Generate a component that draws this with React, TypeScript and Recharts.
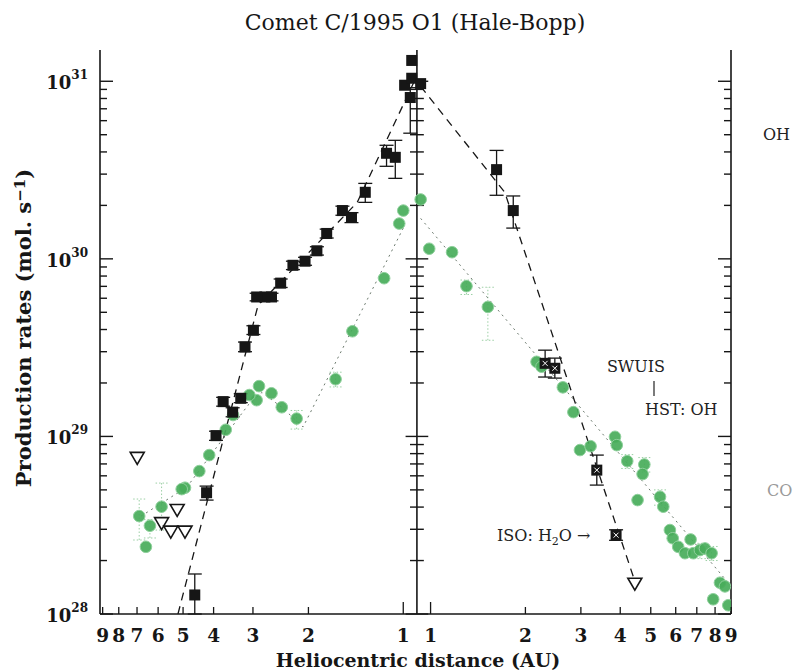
import React from 'react';
import { ComposedChart, Scatter, XAxis, YAxis, ErrorBar, ReferenceLine } from 'recharts';

const FONT = "'DejaVu Serif', serif";
// perihelion distance used to fold the two branches around the centre line
const PERIHELION = 0.905;

// axis ticks
const preTicks = [9, 8, 7, 6, 5, 4, 3, 2, 1];
const postTicks = [1, 2, 3, 4, 5, 6, 7, 8, 9];
const yDecades = [1e28, 1e29, 1e30, 1e31];
const yMinorSteps = [2, 3, 4, 5, 6, 7, 8, 9];
const Y_MIN = 1e28;
const Y_MAX = 1.5e31;

// OH production rate before perihelion (r in AU, q in mol/s, lo/hi = error bar ends)
const ohPre = [
  { r: 0.94, q: 1.31e31 },
  { r: 0.99, q: 9.5e30 },
  { r: 0.94, q: 1.04e31 },
  { r: 0.95, q: 8.1e30, lo: 5.1e30, hi: 9.2e30 },
  { r: 1.13, q: 3.93e30, lo: 3.32e30, hi: 4.36e30 },
  { r: 1.06, q: 3.73e30, lo: 2.84e30, hi: 4.65e30 },
  { r: 1.32, q: 2.37e30, lo: 2.08e30, hi: 2.66e30 },
  { r: 1.46, q: 1.71e30, lo: 1.6e30, hi: 1.82e30 },
  { r: 1.56, q: 1.87e30, lo: 1.76e30, hi: 1.98e30 },
  { r: 1.75, q: 1.39e30, lo: 1.31e30, hi: 1.47e30 },
  { r: 1.88, q: 1.11e30, lo: 1.05e30, hi: 1.17e30 },
  { r: 2.05, q: 9.7e29, lo: 9.2e29, hi: 1.02e30 },
  { r: 2.24, q: 9.2e29, lo: 8.7e29, hi: 9.7e29 },
  { r: 2.45, q: 7.3e29, lo: 6.9e29, hi: 7.7e29 },
  { r: 2.62, q: 6.1e29, lo: 5.8e29, hi: 6.4e29 },
  { r: 2.75, q: 6.1e29, lo: 5.8e29, hi: 6.4e29 },
  { r: 2.92, q: 6.1e29, lo: 5.8e29, hi: 6.4e29 },
  { r: 2.99, q: 3.96e29, lo: 3.75e29, hi: 4.2e29 },
  { r: 3.18, q: 3.19e29, lo: 3.0e29, hi: 3.4e29 },
  { r: 3.28, q: 1.64e29, lo: 1.55e29, hi: 1.74e29 },
  { r: 3.48, q: 1.37e29, lo: 1.29e29, hi: 1.45e29 },
  { r: 3.73, q: 1.57e29, lo: 1.48e29, hi: 1.66e29 },
  { r: 3.93, q: 1.01e29, lo: 9.5e28, hi: 1.07e29 },
  { r: 4.21, q: 4.82e28, lo: 4.38e28, hi: 5.25e28 },
  { r: 4.59, q: 1.28e28, lo: 1.0e28, hi: 1.68e28 },
];

// OH after perihelion
const ohPost = [
  { r: 0.93, q: 9.7e30 },
  { r: 1.62, q: 3.18e30, lo: 2.28e30, hi: 4.08e30 },
  { r: 1.83, q: 1.87e30, lo: 1.49e30, hi: 2.26e30 },
];

// SWUIS / ISO water points after perihelion
const ohPostIR = [
  { r: 2.31, q: 2.58e29, lo: 2.16e29, hi: 3.06e29 },
  { r: 2.48, q: 2.42e29, lo: 2.13e29, hi: 2.76e29 },
  { r: 3.37, q: 6.46e28, lo: 5.32e28, hi: 7.85e28 },
  { r: 3.88, q: 2.78e28, lo: 2.6e28, hi: 2.98e28 },
];

// upper limits (open triangles)
const ohPreLimits = [
  { r: 6.99, q: 7.62e28 },
  { r: 5.22, q: 3.88e28 },
  { r: 5.85, q: 3.27e28 },
  { r: 5.47, q: 2.93e28 },
  { r: 4.93, q: 2.93e28 },
];
const ohPostLimits = [{ r: 4.45, q: 1.49e28 }];

// CO production rate before perihelion
const coPre = [
  { r: 1.0, q: 1.87e30 },
  { r: 1.03, q: 1.58e30 },
  { r: 1.15, q: 7.78e29 },
  { r: 1.45, q: 3.91e29 },
  { r: 1.64, q: 2.1e29, lo: 1.9e29, hi: 2.3e29 },
  { r: 2.18, q: 1.26e29, lo: 1.1e29, hi: 1.4e29 },
  { r: 2.43, q: 1.46e29 },
  { r: 2.62, q: 1.75e29 },
  { r: 2.87, q: 1.92e29 },
  { r: 2.92, q: 1.6e29 },
  { r: 3.08, q: 1.71e29 },
  { r: 3.47, q: 1.32e29 },
  { r: 3.66, q: 1.09e29 },
  { r: 4.13, q: 7.85e28 },
  { r: 4.44, q: 6.38e28 },
  { r: 4.93, q: 5.14e28 },
  { r: 5.05, q: 5.05e28 },
  { r: 5.85, q: 4.02e28, lo: 2.97e28, hi: 5.46e28 },
  { r: 6.37, q: 3.14e28, lo: 2.68e28, hi: 3.4e28 },
  { r: 6.89, q: 3.56e28, lo: 2.61e28, hi: 4.44e28 },
  { r: 6.56, q: 2.39e28 },
];

// CO after perihelion
const coPost = [
  { r: 0.93, q: 2.16e30 },
  { r: 0.99, q: 1.14e30 },
  { r: 1.17, q: 1.09e30 },
  { r: 1.3, q: 7.02e29, lo: 6.3e29, hi: 7.6e29 },
  { r: 1.52, q: 5.36e29, lo: 3.48e29, hi: 6.92e29 },
  { r: 2.17, q: 2.63e29 },
  { r: 2.25, q: 2.47e29 },
  { r: 2.63, q: 1.89e29 },
  { r: 2.84, q: 1.37e29 },
  { r: 2.98, q: 8.38e28 },
  { r: 3.22, q: 8.81e28 },
  { r: 3.85, q: 9.95e28 },
  { r: 3.9, q: 8.93e28 },
  { r: 4.21, q: 7.26e28, lo: 6.6e28, hi: 7.9e28 },
  { r: 4.77, q: 6.95e28, lo: 6.3e28, hi: 7.6e28 },
  { r: 4.71, q: 6.14e28 },
  { r: 4.54, q: 4.38e28 },
  { r: 5.35, q: 4.57e28, lo: 4.1e28, hi: 5.0e28 },
  { r: 5.48, q: 4.02e28 },
  { r: 5.75, q: 2.97e28 },
  { r: 5.87, q: 2.67e28 },
  { r: 6.11, q: 2.39e28 },
  { r: 6.42, q: 2.2e28 },
  { r: 6.69, q: 2.63e28 },
  { r: 6.82, q: 2.2e28 },
  { r: 7.16, q: 2.29e28, lo: 2.05e28, hi: 2.5e28 },
  { r: 7.43, q: 2.34e28 },
  { r: 7.8, q: 2.2e28, lo: 2.0e28, hi: 2.4e28 },
  { r: 8.29, q: 1.5e28 },
  { r: 8.6, q: 1.43e28 },
  { r: 7.89, q: 1.21e28 },
  { r: 8.81, q: 1.12e28 },
];

// trend lines drawn through the data
const ohPreFit = [
  { r: 5.19, q: 1.0e28 },
  { r: 2.89, q: 5.48e29 },
  { r: 1.4, q: 2.08e30 },
  { r: 0.92, q: 1.01e31 },
];
const ohPostFit = [
  { r: 0.93, q: 9.35e30 },
  { r: 1.72, q: 2.37e30 },
  { r: 4.49, q: 1.46e28 },
];
const coPreFit = [
  { r: 1.0, q: 1.49e30 },
  { r: 2.08, q: 1.13e29 },
  { r: 2.43, q: 1.46e29 },
  { r: 2.81, q: 1.77e29 },
  { r: 3.11, q: 1.5e29 },
  { r: 4.86, q: 5.19e28 },
  { r: 6.86, q: 3.52e28 },
];
const coPostFit = [
  { r: 0.93, q: 1.69e30 },
  { r: 8.92, q: 1.46e28 },
];

type Row = { r: number; q: number; lo?: number; hi?: number };

// pre-perihelion runs to the left of the centre line, post to the right
const fold = (side: number, rows: Row[]) =>
  rows.map((d) => ({
    u: side * Math.log10(d.r / PERIHELION),
    q: d.q,
    err: d.lo != null && d.hi != null ? [d.q - d.lo, d.hi - d.q] : undefined,
  }));
const withErr = (side: number, rows: Row[]) => fold(side, rows.filter((d) => d.lo != null));

const xTicks = [
  ...preTicks.map((r) => ({ u: -Math.log10(r / PERIHELION), label: r })),
  ...postTicks.map((r) => ({ u: Math.log10(r / PERIHELION), label: r })),
];
const xTickValues = xTicks.map((t) => t.u);
const xLabel = (v: number) => xTicks.find((t) => Math.abs(t.u - v) < 1e-9)?.label;

const yTicks = yDecades.flatMap((d) =>
  d * 2 > Y_MAX ? [d] : [d, ...yMinorSteps.map((m) => m * d)]
);
const isDecade = (v: number) => Math.abs(Math.log10(v) - Math.round(Math.log10(v))) < 1e-6;

const INK = '#161616';
const GREEN = '#48ad5a';

const BottomTick = (props: any) => {
  const { x, y, payload } = props;
  const label = xLabel(payload.value);
  const len = label === 1 ? 12 : 7;
  return (
    <g>
      <line x1={x} y1={y} x2={x} y2={y - len} stroke={INK} strokeWidth={1.3} />
      <text x={x} y={y + 28} textAnchor="middle" fontFamily={FONT} fontWeight="bold" fontSize={18.5} fill={INK}>
        {label}
      </text>
    </g>
  );
};

const TopTick = (props: any) => {
  const { x, y, payload } = props;
  const len = xLabel(payload.value) === 1 ? 10 : 6;
  return <line x1={x} y1={y} x2={x} y2={y + len} stroke={INK} strokeWidth={1.3} />;
};

const LeftTick = (props: any) => {
  const { x, y, payload } = props;
  const major = isDecade(payload.value);
  const exp = Math.round(Math.log10(payload.value));
  return (
    <g>
      <line x1={x} y1={y} x2={x + (major ? 13 : 7)} y2={y} stroke={INK} strokeWidth={1.4} />
      {major && (
        <text x={x - 12} y={y + 8} textAnchor="end" fontFamily={FONT} fontWeight="bold" fontSize={18} fill={INK}>
          10
          <tspan dy={-10} fontSize={12}>
            {exp}
          </tspan>
        </text>
      )}
    </g>
  );
};

const RightTick = (props: any) => {
  const { x, y, payload } = props;
  const major = isDecade(payload.value);
  return <line x1={x} y1={y} x2={x - (major ? 13 : 7)} y2={y} stroke={INK} strokeWidth={1.4} />;
};

const Empty = () => <g />;

const Square = (props: any) => {
  const { cx, cy } = props;
  if (cx == null || cy == null) return <g />;
  return <rect x={cx - 5.5} y={cy - 5.5} width={11} height={11} fill={INK} />;
};

const IRSquare = (props: any) => {
  const { cx, cy } = props;
  if (cx == null || cy == null) return <g />;
  return (
    <g>
      <rect x={cx - 5.5} y={cy - 5.5} width={11} height={11} fill={INK} />
      <path d={`M${cx - 2.5},${cy - 2.5} L${cx + 2.5},${cy + 2.5} M${cx + 2.5},${cy - 2.5} L${cx - 2.5},${cy + 2.5}`} stroke="#fff" strokeWidth={1} />
    </g>
  );
};

const Limit = (props: any) => {
  const { cx, cy } = props;
  if (cx == null || cy == null) return <g />;
  return <path d={`M${cx - 7},${cy - 5} L${cx + 7},${cy - 5} L${cx},${cy + 7} Z`} fill="#fff" stroke={INK} strokeWidth={1.6} />;
};

const Dot = (props: any) => {
  const { cx, cy } = props;
  if (cx == null || cy == null) return <g />;
  return <circle cx={cx} cy={cy} r={5.8} fill={GREEN} stroke="#8fd09c" strokeWidth={1} fillOpacity={0.92} />;
};

const ids = { xAxisId: 'bottom', yAxisId: 'left' };
const ohLine = { stroke: INK, strokeWidth: 1.3, strokeDasharray: '8 6' };
const coLine = { stroke: '#6c7a6e', strokeWidth: 1, strokeDasharray: '2 4' };

export default function App() {
  return (
    <div style={{ position: 'absolute', left: 0, top: 0, width: 794, height: 672, background: '#fff' }}>
      <ComposedChart width={794} height={672} margin={{ top: 50, right: 0, bottom: 0, left: 0 }}>
        <XAxis
          xAxisId="bottom"
          type="number"
          dataKey="u"
          domain={[-1.006, 0.997]}
          allowDataOverflow
          ticks={xTickValues}
          interval={0}
          height={58}
          tickSize={0}
          tickMargin={0}
          tickLine={false}
          axisLine={{ stroke: INK, strokeWidth: 1.6 }}
          tick={<BottomTick />}
        />
        <XAxis
          xAxisId="top"
          orientation="top"
          type="number"
          dataKey="u"
          domain={[-1.006, 0.997]}
          allowDataOverflow
          ticks={xTickValues}
          interval={0}
          height={0}
          tickSize={0}
          tickMargin={0}
          tickLine={false}
          axisLine={{ stroke: INK, strokeWidth: 1.6 }}
          tick={<TopTick />}
        />
        <YAxis
          yAxisId="left"
          type="number"
          dataKey="q"
          scale="log"
          domain={[Y_MIN, Y_MAX]}
          allowDataOverflow
          ticks={yTicks}
          interval={0}
          width={100}
          tickSize={0}
          tickMargin={0}
          tickLine={false}
          axisLine={{ stroke: INK, strokeWidth: 1.6 }}
          tick={<LeftTick />}
        />
        <YAxis
          yAxisId="right"
          orientation="right"
          type="number"
          dataKey="q"
          scale="log"
          domain={[Y_MIN, Y_MAX]}
          allowDataOverflow
          ticks={yTicks}
          interval={0}
          width={63}
          tickSize={0}
          tickMargin={0}
          tickLine={false}
          axisLine={{ stroke: INK, strokeWidth: 1.6 }}
          tick={<RightTick />}
        />

        {/* perihelion divider with its own tick marks */}
        <ReferenceLine {...ids} x={0} stroke={INK} strokeWidth={1.6} />
        {yTicks.map((v) => {
          const half = isDecade(v) ? 0.036 : 0.022;
          return (
            <ReferenceLine
              key={`c${v}`}
              {...ids}
              segment={[{ x: -half, y: v }, { x: half, y: v }]}
              stroke={INK}
              strokeWidth={1.4}
            />
          );
        })}

        {/* trend lines */}
        <Scatter {...ids} data={fold(-1, coPreFit)} dataKey="q" shape={<Empty />} line={coLine} isAnimationActive={false} />
        <Scatter {...ids} data={fold(1, coPostFit)} dataKey="q" shape={<Empty />} line={coLine} isAnimationActive={false} />
        <Scatter {...ids} data={fold(-1, ohPreFit)} dataKey="q" shape={<Empty />} line={ohLine} isAnimationActive={false} />
        <Scatter {...ids} data={fold(1, ohPostFit)} dataKey="q" shape={<Empty />} line={ohLine} isAnimationActive={false} />

        {/* CO error bars and points */}
        <Scatter {...ids} data={[...withErr(-1, coPre), ...withErr(1, coPost)]} dataKey="q" shape={<Empty />} isAnimationActive={false}>
          <ErrorBar dataKey="err" direction="y" width={6} stroke="#9bcfa4" strokeWidth={1} strokeDasharray="1.5 2" />
        </Scatter>
        <Scatter {...ids} data={fold(-1, coPre)} dataKey="q" shape={<Dot />} isAnimationActive={false} />
        <Scatter {...ids} data={fold(1, coPost)} dataKey="q" shape={<Dot />} isAnimationActive={false} />

        {/* OH error bars and points */}
        <Scatter
          {...ids}
          data={[...withErr(-1, ohPre), ...withErr(1, ohPost), ...withErr(1, ohPostIR)]}
          dataKey="q"
          shape={<Empty />}
          isAnimationActive={false}
        >
          <ErrorBar dataKey="err" direction="y" width={7} stroke={INK} strokeWidth={1.3} />
        </Scatter>
        <Scatter {...ids} data={fold(-1, ohPre)} dataKey="q" shape={<Square />} isAnimationActive={false} />
        <Scatter {...ids} data={fold(1, ohPost)} dataKey="q" shape={<Square />} isAnimationActive={false} />
        <Scatter {...ids} data={fold(1, ohPostIR)} dataKey="q" shape={<IRSquare />} isAnimationActive={false} />
        <Scatter {...ids} data={fold(-1, ohPreLimits)} dataKey="q" shape={<Limit />} isAnimationActive={false} />
        <Scatter {...ids} data={fold(1, ohPostLimits)} dataKey="q" shape={<Limit />} isAnimationActive={false} />
      </ComposedChart>

      <svg width={794} height={672} style={{ position: 'absolute', left: 0, top: 0, pointerEvents: 'none' }}>
        <text x={415} y={30} textAnchor="middle" fontFamily={FONT} fontSize={22} fill={INK}>
          Comet C/1995 O1 (Hale-Bopp)
        </text>
        <text x={418} y={667} textAnchor="middle" fontFamily={FONT} fontWeight="bold" fontSize={19} fill={INK}>
          Heliocentric distance (AU)
        </text>
        <text
          transform="translate(31,328) rotate(-90)"
          textAnchor="middle"
          fontFamily={FONT}
          fontWeight="bold"
          fontSize={21}
          fill={INK}
        >
          Production rates (mol. s
          <tspan dy={-6} fontSize={15}>−1</tspan>
          <tspan dy={6}>)</tspan>
        </text>
        <text x={763} y={140} fontFamily={FONT} fontSize={16} fill="#222">OH</text>
        <text x={767} y={496} fontFamily={FONT} fontSize={16} fill="#9a9a9a">CO</text>
        <text x={636} y={372} textAnchor="middle" fontFamily={FONT} fontSize={16} fill="#222">SWUIS</text>
        <line x1={654} y1={381} x2={654} y2={396} stroke="#222" strokeWidth={1.2} />
        <text x={645} y={415} fontFamily={FONT} fontSize={16} fill="#222">HST: OH</text>
        <text x={497} y={541} fontFamily={FONT} fontSize={16} fill="#222">
          ISO: H<tspan dy={4} fontSize={11}>2</tspan>
          <tspan dy={-4}>O →</tspan>
        </text>
      </svg>
    </div>
  );
}
